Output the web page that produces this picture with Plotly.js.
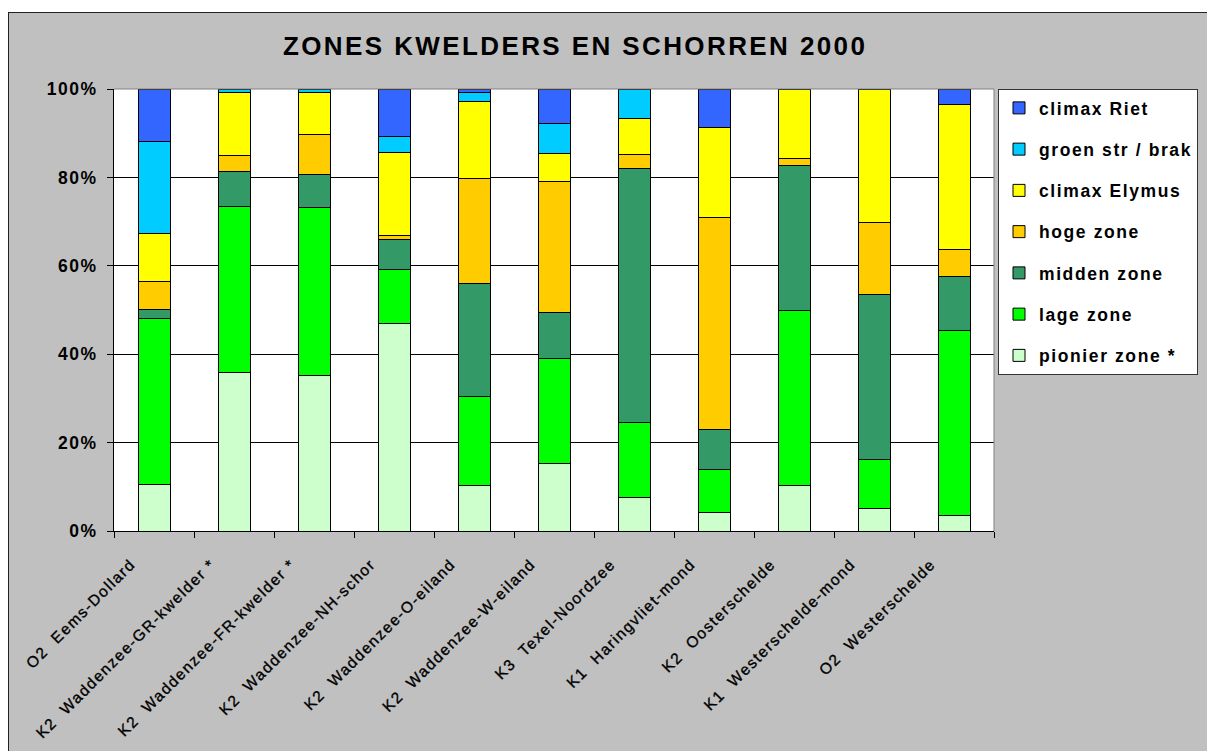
<!DOCTYPE html>
<html>
<head>
<meta charset="utf-8">
<script src="https://cdn.plot.ly/plotly-3.0.1.min.js"></script>
<style>
  html, body { margin:0; padding:0; background:#ffffff; width:1207px; height:751px; overflow:hidden; }
  #frame { position:absolute; left:8px; top:12px; width:1207px; height:751px; background:#c0c0c0;
           border-left:1.5px solid #222; border-top:1.5px solid #222; box-sizing:border-box; }
  #chart { position:absolute; left:0; top:0; width:1207px; height:751px; }
  .gtitle { letter-spacing:2.4px; }
  .legendtext { letter-spacing:1.6px; }
  .ytick text { letter-spacing:1.5px; }
  .xtick text { letter-spacing:1.5px; stroke:#000; stroke-width:0.35px; }
</style>
</head>
<body>
<div id="frame"></div>
<div id="chart"></div>
<script>
const categories = [
  "O2\u00a0 Eems-Dollard",
  "K2\u00a0 Waddenzee-GR-kwelder *",
  "K2\u00a0 Waddenzee-FR-kwelder *",
  "K2\u00a0 Waddenzee-NH-schor",
  "K2\u00a0 Waddenzee-O-eiland",
  "K2\u00a0 Waddenzee-W-eiland",
  "K3\u00a0 Texel-Noordzee",
  "K1\u00a0 Haringvliet-mond",
  "K2\u00a0 Oosterschelde",
  "K1\u00a0 Westerschelde-mond",
  "O2\u00a0 Westerschelde"
];
const pionierZone  = [10.6, 35.8, 35.2, 46.9, 10.2, 15.3,  7.6,  4.2, 10.3,  5.1,  3.6];
const lageZone     = [37.5, 37.7, 38.1, 12.2, 20.3, 23.7, 17.0,  9.8, 39.6, 11.1, 41.8];
const middenZone   = [ 2.1,  7.9,  7.4,  6.9, 25.6, 10.5, 57.5,  9.0, 32.7, 37.2, 12.2];
const hogeZone     = [ 6.3,  3.5,  9.0,  0.8, 23.6, 29.5,  3.1, 47.9,  1.6, 16.4,  6.1];
const climaxElymus = [10.9, 14.4,  9.6, 18.9, 17.4,  6.3,  8.2, 20.3, 15.8, 30.2, 32.9];
const groenBrak    = [20.7,  0.7,  0.7,  3.6,  2.2,  6.8,  6.6,  0.0,  0.0,  0.0,  0.0];
const climaxRiet   = [11.9,  0.0,  0.0, 10.7,  0.7,  7.9,  0.0,  8.8,  0.0,  0.0,  3.4];
const yTicks = [0, 20, 40, 60, 80, 100];
const yTickLabels = ["0%", "20%", "40%", "60%", "80%", "100%"];

const seriesDefs = [
  {name: "pionier zone *",   y: pionierZone,  color: "#ccffcc"},
  {name: "lage zone",        y: lageZone,     color: "#00ff00"},
  {name: "midden zone",      y: middenZone,   color: "#339966"},
  {name: "hoge zone",        y: hogeZone,     color: "#ffcc00"},
  {name: "climax Elymus",    y: climaxElymus, color: "#ffff00"},
  {name: "groen str / brak", y: groenBrak,    color: "#00ccff"},
  {name: "climax Riet",      y: climaxRiet,   color: "#3366ff"}
];

const FONT = "Liberation Sans, Arial, Helvetica, sans-serif";

const traces = seriesDefs.map((s, i) => ({
  type: "bar",
  name: s.name,
  x: categories,
  y: s.y,
  legendgroup: "g" + i,
  legendrank: seriesDefs.length - i,
  marker: {color: s.color, line: {color: "#000000", width: 1}},
  hoverinfo: "skip"
}));

const layout = {
  width: 1207, height: 751,
  paper_bgcolor: "rgba(0,0,0,0)",
  plot_bgcolor: "#ffffff",
  margin: {l: 114, r: 213, t: 89, b: 220, pad: 0},
  barmode: "stack",
  barnorm: "percent",
  bargap: 0.6,
  showlegend: true,
  title: {
    text: "ZONES KWELDERS EN SCHORREN 2000",
    font: {family: FONT, size: 26, color: "#000000", weight: "bold"},
    xref: "container", x: 0.4765, xanchor: "center",
    yref: "container", y: 1 - 46/751, yanchor: "middle"
  },
  font: {family: FONT, color: "#000000"},
  xaxis: {
    type: "category",
    tickson: "boundaries",
    ticks: "outside", ticklen: 6, tickcolor: "#000000", tickwidth: 1,
    showline: true, linecolor: "#000000", linewidth: 1,
    showgrid: false,
    tickangle: -45,
    ticklabelshift: -23,
    ticklabelstandoff: 17,
    tickfont: {family: FONT, size: 15.5, color: "#000000"},
    zeroline: false
  },
  yaxis: {
    range: [0, 100],
    tickvals: yTicks, ticktext: yTickLabels,
    ticks: "outside", ticklen: 6, tickcolor: "#000000", tickwidth: 1,
    ticklabelstandoff: 6,
    showline: true, linecolor: "#000000", linewidth: 1,
    showgrid: true, gridcolor: "#000000", gridwidth: 1,
    zeroline: false,
    tickfont: {family: FONT, size: 17.5, color: "#000000", weight: "bold"}
  },
  legend: {
    x: 998 / 1207, xref: "container", xanchor: "left",
    y: 1 - 89/751, yref: "container", yanchor: "top",
    traceorder: "grouped",
    tracegroupgap: 15.5,
    bgcolor: "#ffffff",
    bordercolor: "#333333", borderwidth: 1,
    font: {family: FONT, size: 17.5, color: "#000000", weight: "bold"}
  },
  shapes: [
    {type: "line", xref: "paper", yref: "paper", x0: 0, x1: 1, y0: 1, y1: 1,
     line: {color: "#808080", width: 1}, layer: "above"},
    {type: "line", xref: "paper", yref: "paper", x0: 1, x1: 1, y0: 0, y1: 1,
     line: {color: "#808080", width: 1}, layer: "above"}
  ]
};

Plotly.newPlot("chart", traces, layout, {staticPlot: true, displayModeBar: false});
</script>
</body>
</html>
